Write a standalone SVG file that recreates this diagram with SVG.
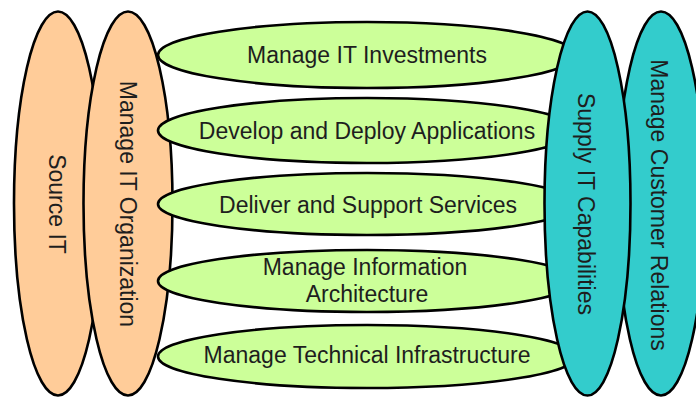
<svg xmlns="http://www.w3.org/2000/svg" width="696" height="400" viewBox="0 0 696 400">
<style>
.o{fill:#FFCC99;stroke:#000;stroke-width:2.6}
.g{fill:#CCFF99;stroke:#000;stroke-width:2.6}
.t{fill:#33CCCC;stroke:#000;stroke-width:2.6}
text{font-family:"Liberation Sans",Arial,sans-serif;font-size:23px;fill:#1e1e1e;text-anchor:middle}
</style>
<rect width="696" height="400" fill="#fff"/>
<g id="source-it">
<ellipse class="o" cx="58" cy="203.5" rx="44" ry="192"/>
<text transform="translate(57,204) rotate(90)" y="8.3">Source IT</text>
</g>
<g id="manage-it-organization">
<ellipse class="o" cx="128" cy="203.5" rx="44.5" ry="192"/>
<text transform="translate(128,204) rotate(90)" y="8.3">Manage IT Organization</text>
</g>
<g id="manage-it-investments">
<ellipse class="g" cx="367" cy="55" rx="209" ry="33"/>
<text x="367" y="63">Manage IT Investments</text>
</g>
<g id="develop-deploy-applications">
<ellipse class="g" cx="367" cy="130.5" rx="209" ry="32.5"/>
<text x="367" y="138.5">Develop and Deploy Applications</text>
</g>
<g id="deliver-support-services">
<ellipse class="g" cx="367" cy="204" rx="209" ry="31"/>
<text x="368" y="212.5">Deliver and Support Services</text>
</g>
<g id="manage-information-architecture">
<ellipse class="g" cx="367" cy="281" rx="209" ry="31"/>
<text x="365" y="275">Manage Information</text>
<text x="367" y="302">Architecture</text>
</g>
<g id="manage-technical-infrastructure">
<ellipse class="g" cx="367" cy="356.5" rx="209" ry="31.5"/>
<text x="367" y="363">Manage Technical Infrastructure</text>
</g>
<g id="manage-customer-relations">
<ellipse class="t" cx="661" cy="203.5" rx="44" ry="192"/>
<text transform="translate(659,205) rotate(90)" y="8.3">Manage Customer Relations</text>
</g>
<g id="supply-it-capabilities">
<ellipse class="t" cx="587.5" cy="203.5" rx="43" ry="192"/>
<text transform="translate(586,204) rotate(90)" y="8.3">Supply IT Capabilities</text>
</g>
<g id="connectors"></g>
</svg>
